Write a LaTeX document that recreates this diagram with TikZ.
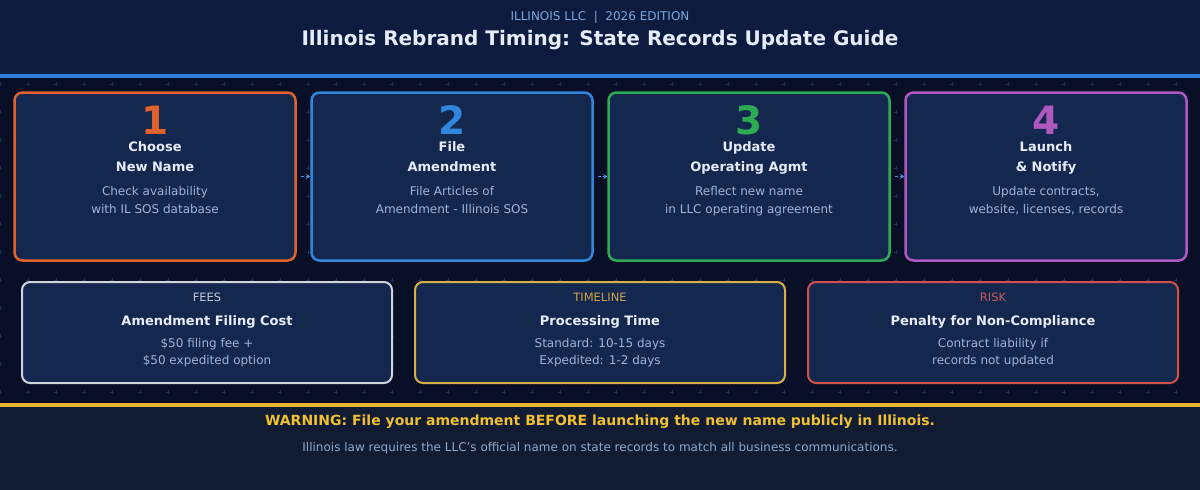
\documentclass[tikz,border=0pt]{standalone}
\usepackage{fontspec}
\setmainfont{DejaVu Sans}
\usetikzlibrary{arrows.meta}
\definecolor{hdrbg}{HTML}{0C1B3E}
\definecolor{bandbg}{HTML}{080F27}
\definecolor{footbg}{HTML}{111C33}
\definecolor{blueline}{HTML}{2F80D8}
\definecolor{yellowline}{HTML}{E8B833}
\definecolor{cardfill}{HTML}{14274F}
\definecolor{gridmark}{HTML}{1D2F57}
\definecolor{ttlcol}{HTML}{E6ECFA}
\definecolor{desccol}{HTML}{9DB5D8}
\definecolor{subcol}{HTML}{7FA8E0}
\definecolor{corange}{HTML}{E0622E}
\definecolor{cblue}{HTML}{2F86DC}
\definecolor{cgreen}{HTML}{2EAA55}
\definecolor{cpurple}{HTML}{B058C0}
\definecolor{feesborder}{HTML}{D0D4DC}
\definecolor{feeslabel}{HTML}{C4CCD8}
\definecolor{timeborder}{HTML}{D8AE48}
\definecolor{timelabel}{HTML}{C9A54A}
\definecolor{riskborder}{HTML}{D0504A}
\definecolor{risklabel}{HTML}{C85A5A}
\definecolor{warncol}{HTML}{F0C030}
\definecolor{notecol}{HTML}{8FA8CC}
\definecolor{arrowcol}{HTML}{4A90E0}
\tikzset{
  stepcardbox/.style={rectangle, rounded corners=8pt, fill=cardfill, line width=2.5pt,
    minimum width=281pt, minimum height=168pt, inner sep=0pt},
  infocardbox/.style={rectangle, rounded corners=8pt, fill=cardfill, line width=2pt,
    minimum width=370pt, minimum height=101pt, inner sep=0pt},
  txt/.style={anchor=base, inner sep=0pt},
  numtxt/.style={txt, font=\fontsize{39}{44}\selectfont\bfseries},
  ttl/.style={txt, text=ttlcol, font=\fontsize{13}{16}\selectfont\bfseries},
  desc/.style={txt, text=desccol, font=\fontsize{12}{14}\selectfont},
  lbl/.style={txt, font=\fontsize{11.5}{13}\selectfont},
  flowarrow/.style={draw=arrowcol, line width=1.5pt, dash pattern=on 3pt off 2pt,
    -{Stealth[length=4pt,width=5pt]}},
}
\newcommand{\stepcard}[8]{%
  \node[stepcardbox, draw=#3] (#1) at (#2,176.5) {};
  \node[numtxt, text=#3] (#1n) at (#2,134.5) {#4};
  \node[ttl] (#1a) at (#2,151.3) {#5};
  \node[ttl] (#1b) at (#2,171) {#6};
  \node[desc] (#1c) at (#2,195.6) {#7};
  \node[desc] (#1d) at (#2,213.2) {#8};
}
\newcommand{\infocard}[8]{%
  \node[infocardbox, draw=#3] (#1) at (#2,332.5) {};
  \node[lbl, text=#4] (#1l) at (#2,301.7) {#5};
  \node[ttl] (#1a) at (#2,325) {#6};
  \node[desc] (#1c) at (#2,347.7) {#7};
  \node[desc] (#1d) at (#2,364.3) {#8};
}
\begin{document}
\begin{tikzpicture}[x=1pt,y=-1pt]
\useasboundingbox (0,0) rectangle (1200,490);
\fill[hdrbg] (0,0) rectangle (1200,74);
\fill[bandbg] (0,78) rectangle (1200,403);
\fill[footbg] (0,407) rectangle (1200,490);
\fill[blueline] (0,74) rectangle (1200,78);
\fill[yellowline] (0,403) rectangle (1200,407);
% grid marks
\foreach \gx in {0,28,...,1200} {
  \foreach \gy in {84,112,...,392} {
    \draw[gridmark, line width=0.8pt] (\gx-2,\gy) -- (\gx+2,\gy) (\gx,\gy-2) -- (\gx,\gy+2);
  }
}
% header
\node[txt, text=subcol, font=\fontsize{12}{14}\selectfont] (sub) at (600,20.2) {ILLINOIS LLC \ | \ 2026 EDITION};
\node[txt, text=ttlcol, font=\fontsize{20}{24}\selectfont\bfseries] (title) at (600,45)
  {Illinois Rebrand Timing: State Records Update Guide};
% step cards
\stepcard{s1}{155}{corange}{1}{Choose}{New Name}{Check availability}{with IL SOS database}
\stepcard{s2}{452}{cblue}{2}{File}{Amendment}{File Articles of}{Amendment - Illinois SOS}
\stepcard{s3}{749}{cgreen}{3}{Update}{Operating Agmt}{Reflect new name}{in LLC operating agreement}
\stepcard{s4}{1046}{cpurple}{4}{Launch}{\& Notify}{Update contracts,}{website, licenses, records}
% connectors
\draw[flowarrow] ([xshift=4pt]s1.east) -- (s2.west);
\draw[flowarrow] ([xshift=4pt]s2.east) -- (s3.west);
\draw[flowarrow] ([xshift=4pt]s3.east) -- (s4.west);
% info cards
\infocard{f}{207}{feesborder}{feeslabel}{FEES}{Amendment Filing Cost}{\$50 filing fee +}{\$50 expedited option}
\infocard{t}{600}{timeborder}{timelabel}{TIMELINE}{Processing Time}{Standard: 10-15 days}{Expedited: 1-2 days}
\infocard{r}{993}{riskborder}{risklabel}{RISK}{Penalty for Non-Compliance}{Contract liability if}{records not updated}
% footer
\node[txt, text=warncol, font=\fontsize{14}{17}\selectfont\bfseries] (warn) at (600,425.7)
  {WARNING: File your amendment BEFORE launching the new name publicly in Illinois.};
\node[txt, text=notecol, font=\fontsize{12}{14}\selectfont] (note) at (600,451)
  {Illinois law requires the LLC's official name on state records to match all business communications.};
\end{tikzpicture}
\end{document}
